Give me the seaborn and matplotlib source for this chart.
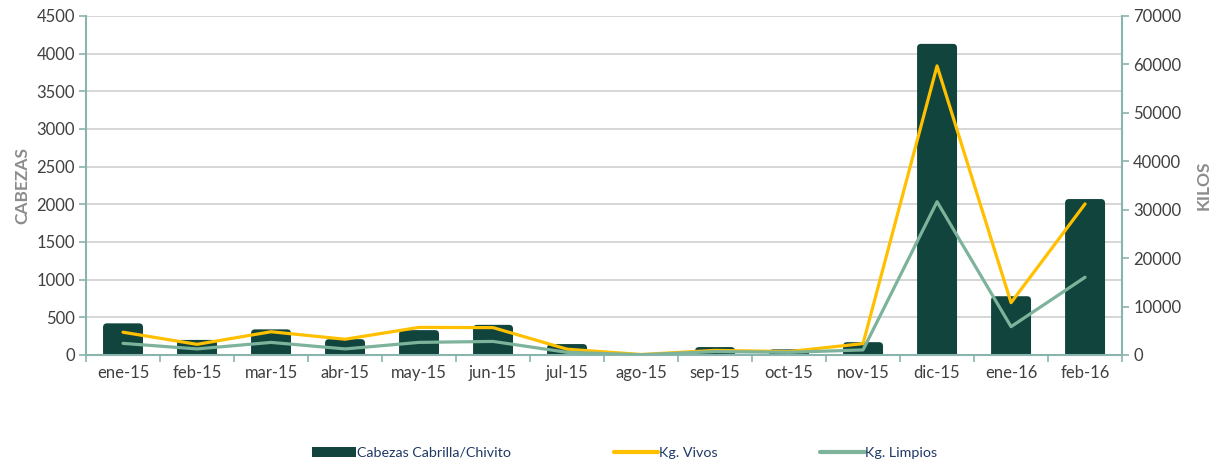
import matplotlib
matplotlib.use("Agg")
import matplotlib.pyplot as plt
import numpy as np
import pandas as pd
import seaborn as sns
from matplotlib.patches import FancyBboxPatch, Patch
from matplotlib.lines import Line2D

# data
months = ["ene-15", "feb-15", "mar-15", "abr-15", "may-15", "jun-15", "jul-15",
          "ago-15", "sep-15", "oct-15", "nov-15", "dic-15", "ene-16", "feb-16"]
cabezas = [420, 200, 340, 210, 330, 400, 145, 5, 105, 75, 170, 4130, 780, 2070]
kg_vivos = [4700, 2200, 4800, 3250, 5700, 5650, 1200, 100, 950, 700, 2350,
            59700, 10800, 31200]
kg_limpios = [2400, 1250, 2600, 1250, 2600, 2800, 550, 50, 700, 550, 1050,
              31650, 5850, 16050]

BAR = "#10443d"
VIVOS = "#ffc000"
LIMPIOS = "#7db39b"
AXIS = "#8ab4ae"
GRID = "#d0d0d0"
TEXT = "#404040"
LABEL = "#8c8c8c"
LEGEND_TXT = "#203864"

sns.set_theme(style="white")
plt.rcParams["font.family"] = ["Lato", "DejaVu Sans"]

df = pd.DataFrame({"mes": months, "cabezas": cabezas,
                   "vivos": kg_vivos, "limpios": kg_limpios})
df["pos"] = np.arange(len(df))

fig = plt.figure(figsize=(12.15, 4.65), dpi=100)
ax = fig.add_axes([0.0708, 0.2366, 0.8527, 0.729])

sns.barplot(data=df, x="mes", y="cabezas", color=BAR, width=0.54,
            saturation=1, ax=ax, zorder=2)

ax.set_xlim(-0.5, len(months) - 0.5)
ax.set_ylim(0, 4500)
ax.set_yticks(np.arange(0, 4501, 500))

# rounded top corners on the bars
fig.canvas.draw()
px_x = ax.transData.transform((1, 0))[0] - ax.transData.transform((0, 0))[0]
px_y = ax.transData.transform((0, 1))[1] - ax.transData.transform((0, 0))[1]
r = 4 / px_x
aspect = px_x / px_y
for p in list(ax.patches):
    x0, w, h = p.get_x(), p.get_width(), p.get_height()
    p.remove()
    ext = r * aspect
    fb = FancyBboxPatch((x0, -ext), w, h + ext,
                        boxstyle=f"round,pad=0,rounding_size={r}",
                        mutation_aspect=aspect, facecolor=BAR,
                        edgecolor="none", zorder=2)
    ax.add_patch(fb)

ax.yaxis.grid(True, color=GRID, linewidth=1.2, zorder=0)
ax.set_axisbelow(True)

ax2 = ax.twinx()
sns.lineplot(data=df, x="pos", y="vivos", color=VIVOS, linewidth=2.3, ax=ax2)
sns.lineplot(data=df, x="pos", y="limpios", color=LIMPIOS, linewidth=2.3, ax=ax2)
ax2.set_ylim(0, 70000)
ax2.set_yticks(np.arange(0, 70001, 10000))
ax2.set_xlim(-0.5, len(months) - 0.5)

# x ticks between categories
ax.set_xticks(np.arange(len(months)))
ax.set_xticklabels(months)
ax.set_xticks(np.arange(-0.5, len(months)), minor=True)
ax.tick_params(axis="x", which="major", length=0, pad=7, labelsize=12,
               labelcolor=TEXT)
ax.tick_params(axis="x", which="minor", length=5, width=1.2, color=AXIS,
               direction="out", bottom=True)
ax.tick_params(axis="y", length=5, width=1.2, color=AXIS, left=True,
               labelsize=12, labelcolor=TEXT, pad=3)
ax2.tick_params(axis="y", length=5, width=1.2, color=AXIS, right=True,
                labelsize=12, labelcolor=TEXT, pad=3)

for a in (ax, ax2):
    for s in a.spines.values():
        s.set_visible(False)
ax.spines["left"].set_visible(True)
ax.spines["bottom"].set_visible(True)
ax2.spines["right"].set_visible(True)
for s in (ax.spines["left"], ax.spines["bottom"], ax2.spines["right"]):
    s.set_color(AXIS)
    s.set_linewidth(1.5)

ax.set_xlabel("")
ax.set_ylabel("CABEZAS", color=LABEL, fontweight="bold", fontsize=12.5,
              labelpad=4)
ax2.set_xlabel("")
ax2.set_ylabel("KILOS", color=LABEL, fontweight="bold", fontsize=12.5,
               rotation=90, labelpad=10)

handles = [Patch(facecolor=BAR, edgecolor="none"),
           Line2D([], [], color=VIVOS, linewidth=3),
           Line2D([], [], color=LIMPIOS, linewidth=3)]
labels = ["Cabezas Cabrilla/Chivito", "Kg. Vivos", "Kg. Limpios"]
leg = fig.legend(handles, labels, loc="center", bbox_to_anchor=(0.514, 0.026),
                 ncol=3, frameon=False, fontsize=10.3, handlelength=3.1,
                 handletextpad=0.05, columnspacing=7.2)
for t in leg.get_texts():
    t.set_color(LEGEND_TXT)

fig.savefig("out.png", dpi=100)
